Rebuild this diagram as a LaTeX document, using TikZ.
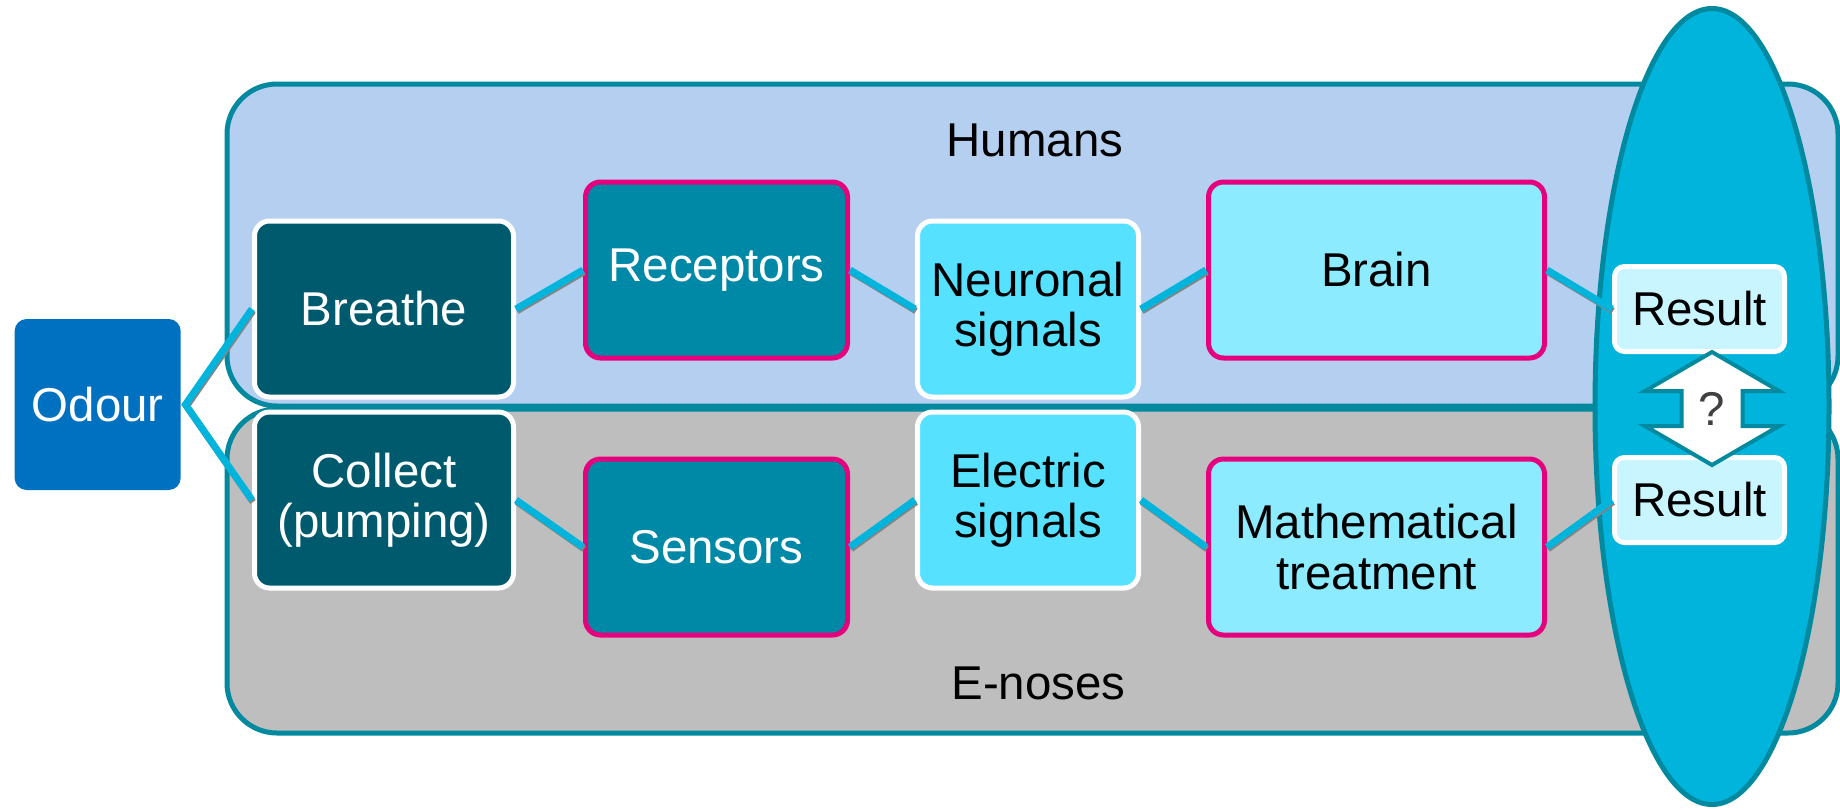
\documentclass[tikz,border=0pt]{standalone}
\usepackage{fontspec}
\setmainfont{Liberation Sans}
\usepackage{xcolor}
\usepackage{tikz}
\usetikzlibrary{shapes}
\usetikzlibrary{positioning, calc}
\definecolor{odourblue}{HTML}{0070C0}
\definecolor{humanfill}{HTML}{B5CFF0}
\definecolor{enosefill}{HTML}{BEBEBE}
\definecolor{panelline}{HTML}{00899F}
\definecolor{darkteal}{HTML}{005A6E}
\definecolor{midteal}{HTML}{0089A6}
\definecolor{signalfill}{HTML}{55E1FF}
\definecolor{procfill}{HTML}{8CEBFF}
\definecolor{resultfill}{HTML}{C8F5FF}
\definecolor{rim}{HTML}{E6007E}
\definecolor{ovalfill}{HTML}{00B4DC}
\definecolor{linkcyan}{HTML}{00B4DC}
\definecolor{linkshade}{HTML}{858585}
\definecolor{qgray}{HTML}{404040}
\newcommand{\boxfont}{\fontsize{27}{28.5}\selectfont}

\begin{document}
\begin{tikzpicture}[
    txt/.style={font=\boxfont, align=center, inner sep=0pt},
    stage/.style={txt, rectangle, rounded corners=3mm, line width=1mm, minimum height=35.2mm},
    intake/.style={stage, draw=white, fill=darkteal, text=white, minimum width=51.8mm},
    detect/.style={stage, draw=rim, fill=midteal, text=white, minimum width=52.4mm},
    signal/.style={stage, draw=white, fill=signalfill, minimum width=44.2mm},
    treat/.style={stage, draw=rim, fill=procfill, minimum width=67.2mm},
    result/.style={txt, rectangle, rounded corners=2mm, line width=1mm, draw=white, fill=resultfill, minimum width=34mm, minimum height=17mm},
    odour/.style={txt, rectangle, rounded corners=2.4mm, fill=odourblue, text=white, minimum width=33.2mm, minimum height=34.2mm},
    panel/.style={draw=panelline, line width=1mm, rounded corners=10mm},
    link/.style={draw=linkcyan, line width=1.4mm, preaction={draw=linkshade, line width=1.3mm, transform canvas={shift={(0.2mm,-0.4mm)}}}},
    qarrow/.style={draw=panelline, fill=white, line width=0.8mm},
    ]
\useasboundingbox (0,0) rectangle (368mm,-161.8mm);
\draw[panel, fill=humanfill] (45.4mm,-16.8mm) rectangle (367.6mm,-81.2mm);
\draw[panel, fill=enosefill] (45.4mm,-81.8mm) rectangle (367.6mm,-146.6mm);
\node[txt] (humans) at (207mm,-28mm) {Humans};
\node[txt] (enoses) at (207.7mm,-136.6mm) {E-noses};
\node[ellipse, draw=panelline, fill=ovalfill, line width=1mm, minimum width=46.8mm, minimum height=159.2mm, inner sep=0pt] (oval) at (342.4mm,-81.3mm) {};

\node[intake] (breathe) at (76.8mm,-61.8mm) {Breathe};
\node[intake, below=2mm of breathe] (collect) {Collect\\(pumping)};
\coordinate (mid) at ($(breathe.west)!0.5!(collect.west)$);
\node[odour, left=14.2mm of mid] (odour) {Odour};

\node[detect, right=13.4mm of breathe, yshift=7.8mm] (receptors) {Receptors};
\node[signal, right=13mm of receptors, yshift=-7.8mm] (neuronal) {Neuronal\\signals};
\node[treat, right=13mm of neuronal, yshift=7.8mm] (brain) {Brain};
\node[result, right=13mm of brain, yshift=-7.8mm] (res1) {Result};

\node[detect, right=13.4mm of collect, yshift=-9.4mm] (sensors) {Sensors};
\node[signal, right=13mm of sensors, yshift=9.4mm] (electric) {Electric\\signals};
\node[treat, right=13mm of electric, yshift=-9.4mm] (math) {Mathematical\\treatment};
\node[result, right=13mm of math, yshift=9.4mm] (res2) {Result};

\draw[link] (breathe.west) -- ([xshift=0.9mm]odour.east) -- (collect.west);
\draw[link] (breathe.east) -- (receptors.west);
\draw[link] (receptors.east) -- (neuronal.west);
\draw[link] (neuronal.east) -- (brain.west);
\draw[link] (brain.east) -- (res1.west);
\draw[link] (collect.east) -- (sensors.west);
\draw[link] (sensors.east) -- (electric.west);
\draw[link] (electric.east) -- (math.west);
\draw[link] (math.east) -- (res2.west);

\coordinate (qpos) at ([yshift=-0.4mm]oval.center);
\begin{scope}[shift={(qpos)}]
\draw[qarrow] (0,11.3mm) -- (13.4mm,3.5mm) -- (6.1mm,3.5mm) -- (6.1mm,-3.5mm) -- (13.4mm,-3.5mm) -- (0,-11.3mm) -- (-13.4mm,-3.5mm) -- (-6.1mm,-3.5mm) -- (-6.1mm,3.5mm) -- (-13.4mm,3.5mm) -- cycle;
\end{scope}
\node[txt, text=qgray] (ask) at (qpos) {?};
\end{tikzpicture}
\end{document}
